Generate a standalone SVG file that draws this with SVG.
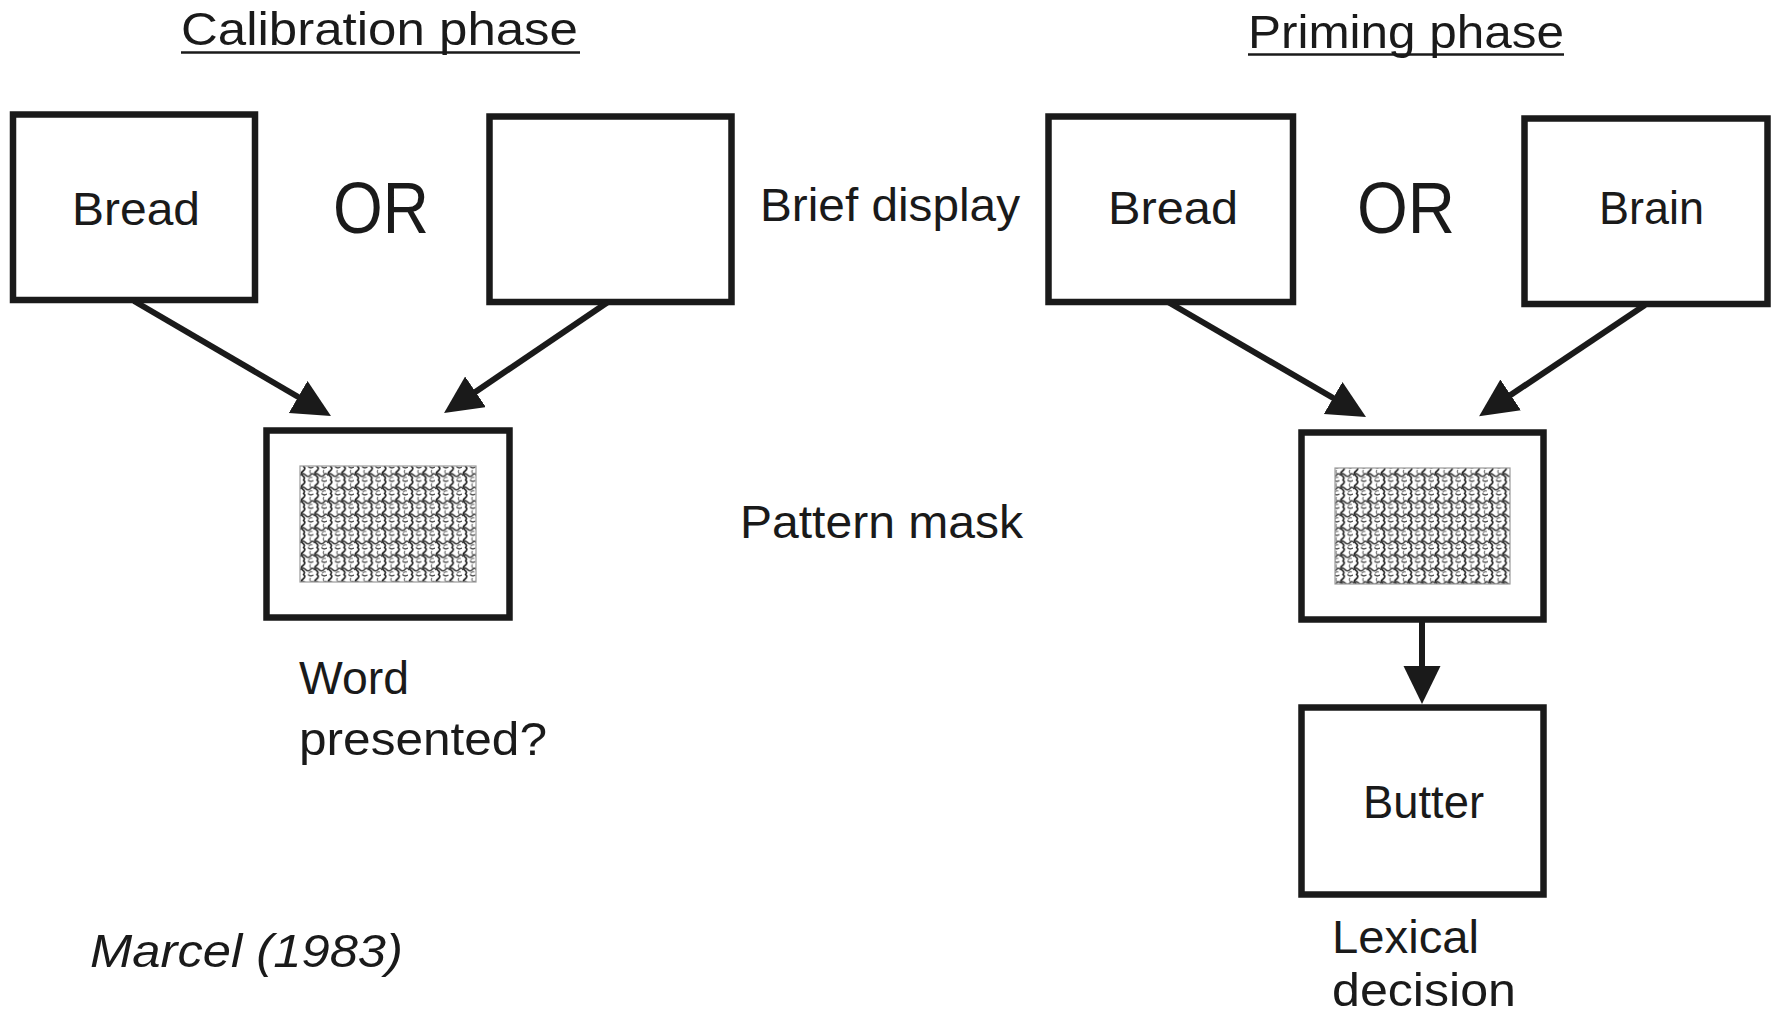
<svg xmlns="http://www.w3.org/2000/svg" width="1775" height="1016" viewBox="0 0 1775 1016">
  <style>
    .box { fill: #ffffff; stroke: #1a1a1a; stroke-width: 6.5; }
    .txt { font-family: "Liberation Sans", Arial, sans-serif; fill: #1a1a1a; font-size: 47px; }
    .or { font-size: 72px; }
    .ital { font-style: italic; }
    .rule { stroke: #1a1a1a; stroke-width: 2.5; }
    .conn { stroke: #1a1a1a; stroke-width: 6; fill: none; marker-end: url(#head); }
    .mask { fill: url(#noise); stroke: #9a9a9a; stroke-width: 1.2; }
  </style>
  <defs>
    <marker id="head" markerUnits="userSpaceOnUse" markerWidth="40" markerHeight="40" refX="18" refY="18.5" orient="auto">
      <path d="M0,0 L38,18.5 L0,37 Z" fill="#1a1a1a"/>
    </marker>
    <!-- interlocking wavy tile used for the masking pattern -->
    <pattern id="noise" patternUnits="userSpaceOnUse" x="300" y="466" width="13.5" height="13.5">
      <rect width="13.5" height="13.5" fill="#ffffff"/>
      <path d="M3,0 q3.5,2.5 0,5 q-3.5,2.5 0,5 q2.5,2 0.5,3.5" fill="none" stroke="#222" stroke-width="1.7"/>
      <path d="M0,9.5 q2.5,-3.5 5.5,-0.5 q3,3 5.5,-0.5 q1.5,-1.5 2.5,0" fill="none" stroke="#3a3a3a" stroke-width="1.5"/>
      <path d="M8,0.5 q2.5,2.5 5.5,0.5" fill="none" stroke="#444" stroke-width="1.3"/>
      <path d="M10.5,4 q-1.5,2 0.5,3.5" fill="none" stroke="#666" stroke-width="1.1"/>
      <path d="M8.5,13 q1.5,-2.5 4,-1.5" fill="none" stroke="#777" stroke-width="1.1"/>
    </pattern>
  </defs>

  <!-- phase headings -->
  <g id="heading-calibration">
    <text class="txt" x="181" y="45" font-size="48" textLength="397" lengthAdjust="spacingAndGlyphs">Calibration phase</text>
    <line class="rule" x1="181" y1="52.5" x2="580" y2="52.5"/>
  </g>
  <g id="heading-priming">
    <text class="txt" x="1248" y="48" font-size="48" textLength="316" lengthAdjust="spacingAndGlyphs">Priming phase</text>
    <line class="rule" x1="1248" y1="54.5" x2="1564" y2="54.5"/>
  </g>

  <!-- calibration phase nodes -->
  <g id="calib-bread">
    <rect class="box" x="13" y="114.5" width="242" height="185.5"/>
    <text class="txt" x="72" y="225" textLength="128" lengthAdjust="spacingAndGlyphs">Bread</text>
  </g>
  <g id="calib-or">
    <text class="txt or" x="333" y="233" textLength="96" lengthAdjust="spacingAndGlyphs">OR</text>
  </g>
  <g id="calib-blank">
    <rect class="box" x="489.5" y="116.5" width="242" height="185.5"/>
  </g>
  <g id="calib-mask">
    <rect class="box" x="266.5" y="430.5" width="243" height="187"/>
    <rect class="mask" x="300" y="466" width="176" height="116"/>
  </g>
  <g id="calib-question">
    <text class="txt" x="299" y="694" textLength="110" lengthAdjust="spacingAndGlyphs">Word</text>
    <text class="txt" x="299" y="755" textLength="248" lengthAdjust="spacingAndGlyphs">presented?</text>
  </g>

  <!-- stage labels in the middle -->
  <g id="label-brief">
    <text class="txt" x="760" y="221" textLength="260" lengthAdjust="spacingAndGlyphs">Brief display</text>
  </g>
  <g id="label-mask">
    <text class="txt" x="740" y="538" textLength="283" lengthAdjust="spacingAndGlyphs">Pattern mask</text>
  </g>

  <!-- priming phase nodes -->
  <g id="prime-bread">
    <rect class="box" x="1048.5" y="116.5" width="244.5" height="185.5"/>
    <text class="txt" x="1108" y="224" textLength="130" lengthAdjust="spacingAndGlyphs">Bread</text>
  </g>
  <g id="prime-or">
    <text class="txt or" x="1357" y="233" textLength="98" lengthAdjust="spacingAndGlyphs">OR</text>
  </g>
  <g id="prime-brain">
    <rect class="box" x="1524.5" y="118.5" width="243" height="185.5"/>
    <text class="txt" x="1599" y="224" textLength="105" lengthAdjust="spacingAndGlyphs">Brain</text>
  </g>
  <g id="prime-mask">
    <rect class="box" x="1301.5" y="432.5" width="242" height="187"/>
    <rect class="mask" x="1335" y="468" width="175" height="116"/>
  </g>
  <g id="prime-butter">
    <rect class="box" x="1301.5" y="707.5" width="242" height="187"/>
    <text class="txt" x="1363" y="818" textLength="121" lengthAdjust="spacingAndGlyphs">Butter</text>
  </g>
  <g id="prime-task">
    <text class="txt" x="1332" y="953" textLength="147" lengthAdjust="spacingAndGlyphs">Lexical</text>
    <text class="txt" x="1332" y="1006" font-size="46" textLength="184" lengthAdjust="spacingAndGlyphs">decision</text>
  </g>

  <!-- citation -->
  <g id="citation">
    <text class="txt ital" x="90" y="967" textLength="313" lengthAdjust="spacingAndGlyphs">Marcel (1983)</text>
  </g>

  <!-- connectors -->
  <g id="connectors">
    <line class="conn" x1="134" y1="301" x2="313.7" y2="406"/>
    <line class="conn" x1="608" y1="302" x2="460.6" y2="401.9"/>
    <line class="conn" x1="1168" y1="302" x2="1348.7" y2="407"/>
    <line class="conn" x1="1645" y1="305" x2="1495.7" y2="405"/>
    <line class="conn" x1="1422" y1="622" x2="1422" y2="684"/>
  </g>
</svg>
